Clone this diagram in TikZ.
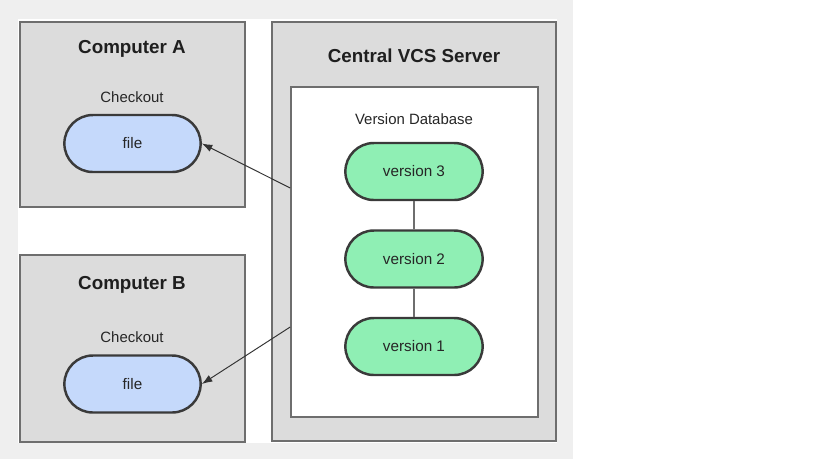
\documentclass[tikz,border=0pt]{standalone}
\usepackage{fontspec}
\setmainfont{Liberation Sans}
\usepackage{xcolor}
\usepackage{tikz}
\usetikzlibrary{shapes.misc, arrows.meta}

\definecolor{framegray}{HTML}{EFEFEF}
\definecolor{boxgray}{HTML}{DCDCDC}
\definecolor{boxline}{HTML}{6E6E6E}
\definecolor{pillline}{HTML}{3A3A3A}
\definecolor{fileblue}{HTML}{C5D9FB}
\definecolor{vergreen}{HTML}{8FEFB4}

\begin{document}
\begin{tikzpicture}[
  x=0.02cm, y=-0.02cm,
  machine/.style={
    rectangle, draw=boxline, line width=0.9pt, fill=boxgray,
    minimum width=4.5cm, inner sep=0pt
  },
  title/.style={font=\fontsize{10.7}{12}\selectfont\bfseries, text=black!88},
  caption/.style={font=\fontsize{8.5}{10}\selectfont, text=black!85},
  pill/.style={
    rounded rectangle, draw=pillline, line width=1.4pt,
    minimum width=2.96cm, minimum height=1.14cm,
    font=\fontsize{8.7}{10}\selectfont, text=black!85
  },
  arrow/.style={-{Latex[length=2.1mm,width=1.5mm]}, line width=0.55pt, black!80}
]
\useasboundingbox (0,0) rectangle (815,461);

% --- background frame ---
\fill[framegray] (0,0) rectangle (573,459);
\fill[white] (18,19) rectangle (557,443);

% --- Left: client machines ---
\node[machine, minimum height=3.7cm]  (compA) at (132.5,114.5) {};
\node[machine, minimum height=3.74cm] (compB) at (132.5,348.5) {};
\node[title]   (titleA) at (132,49)  {Computer A};
\node[caption] (coA)    at (132,97)  {Checkout};
\node[pill, fill=fileblue] (fileA) at (132.5,143.5) {file};
\node[title]   (titleB) at (132,285) {Computer B};
\node[caption] (coB)    at (132,337) {Checkout};
\node[pill, fill=fileblue] (fileB) at (132.5,384) {file};

% --- Right: server ---
\node[machine, minimum width=5.68cm, minimum height=8.38cm] (server) at (414,231.5) {};
\node[title] (titleS) at (414,56) {Central VCS Server};
\node[rectangle, draw=boxline, line width=0.9pt, fill=white,
      minimum width=4.94cm, minimum height=6.6cm] (db) at (414.5,252) {};
\node[caption] (dbname) at (414,119) {Version Database};

% --- versions ---
\node[pill, fill=vergreen, minimum width=2.98cm] (v3) at (414,171.5) {version 3};
\node[pill, fill=vergreen, minimum width=2.98cm] (v2) at (414,259)   {version 2};
\node[pill, fill=vergreen, minimum width=2.98cm] (v1) at (414,346.5) {version 1};

% Links
\draw[boxline, line width=0.9pt] (v3) -- (v2);
\draw[boxline, line width=0.9pt] (v2) -- (v1);
\draw[arrow] ([yshift=1.28cm]db.west) -- (fileA.east);
\draw[arrow] ([yshift=-1.5cm]db.west) -- (fileB.east);

\end{tikzpicture}
\end{document}
